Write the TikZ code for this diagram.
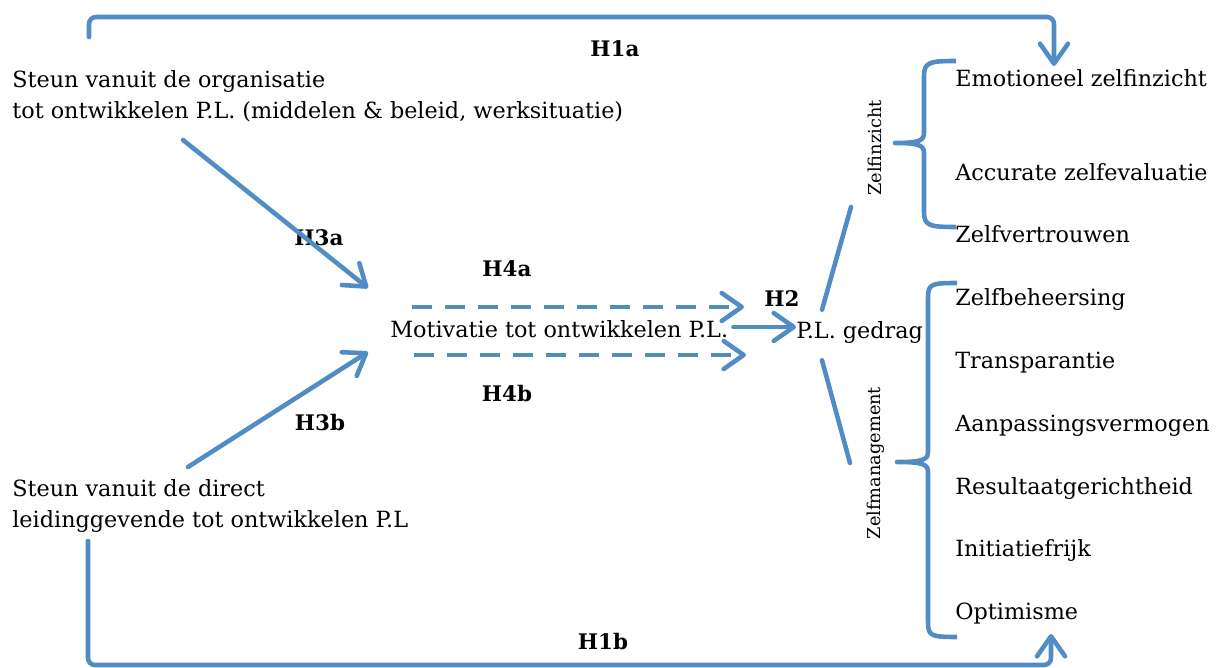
\documentclass[tikz,border=0pt]{standalone}
\usepackage{tikz}
\usepackage{fontspec}
\setmainfont{DejaVu Serif}
\usepackage{xcolor}
\definecolor{modelblue}{RGB}{82,140,196}
\usetikzlibrary{arrows.meta,positioning}

\tikzset{
    link/.style={draw=modelblue, line width=2.6pt, line cap=round, line join=round},
    pijl/.style={link, -{Straight Barb[length=4mm,width=5.6mm,round]}},
    stippel/.style={pijl, line cap=butt, dash pattern=on 4mm off 2.6mm},
    tekst/.style={inner sep=0pt, font=\fontsize{12.7}{18.2}\selectfont},
    hyp/.style={inner sep=0pt, font=\fontsize{12.2}{15}\selectfont\bfseries},
    dim/.style={inner sep=0pt, rotate=90, font=\fontsize{10.1}{12}\selectfont},
}

\begin{document}
\begin{tikzpicture}[x=0.02cm, y=-0.02cm]
    \useasboundingbox (0,0) rectangle (1221,668);

    % Antecedenten (base = laatste regel)
    \node[tekst, anchor=base west, align=left] (org) at (12,119)
        {Steun vanuit de organisatie\\tot ontwikkelen P.L. (middelen \& beleid, werksituatie)};
    \node[tekst, anchor=base west, align=left] (leid) at (12,528)
        {Steun vanuit de direct\\leidinggevende tot ontwikkelen P.L};

    % Mediator en uitkomst
    \node[tekst, anchor=base west] (mot) at (390,338) {Motivatie tot ontwikkelen P.L.};
    \node[tekst, anchor=base west] (gedrag) at (796,339) {P.L. gedrag};

    % Dimensies
    \node[dim] (inzicht) at (875,148) {Zelfinzicht};
    \node[dim] (management) at (876,463) {Zelfmanagement};

    \foreach \name/\y/\lab in {emo/87/Emotioneel zelfinzicht, acc/181/Accurate zelfevaluatie,
        vertr/243/Zelfvertrouwen, beh/306/Zelfbeheersing, trans/369/Transparantie,
        aanp/432/Aanpassingsvermogen, res/495/Resultaatgerichtheid,
        init/557/Initiatiefrijk, opt/620/Optimisme} {
        \node[tekst, anchor=base west] (\name) at (955,\y) {\lab};
    }

    % Hypothesen
    \node[hyp, anchor=base] (h1a) at (615,57) {H1a};
    \node[hyp, anchor=base] (h3a) at (319,246) {H3a};
    \node[hyp, anchor=base] (h4a) at (507,277) {H4a};
    \node[hyp, anchor=base] (h2) at (782,307) {H2};
    \node[hyp, anchor=base] (h4b) at (507,402) {H4b};
    \node[hyp, anchor=base] (h3b) at (320,431) {H3b};
    \node[hyp, anchor=base] (h1b) at (603,650) {H1b};

    % Eindpunten van de verbindingen
    \coordinate (h1aStart) at (89,37);
    \coordinate (h1aEnd) at (1054,66);
    \coordinate (h1bStart) at (88,541);
    \coordinate (h1bEnd) at (1051,634);
    \coordinate (h3aStart) at (183,140);
    \coordinate (h3aEnd) at (368,288);
    \coordinate (h3bStart) at (188,467);
    \coordinate (h3bEnd) at (368,352);
    \coordinate (inzichtLijn) at (851,207);
    \coordinate (managementLijn) at (850,463);

    % Directe effecten
    \draw[pijl, rounded corners=4pt] (h1aStart) |- (1054,17) -- (h1aEnd);
    \draw[pijl, rounded corners=4pt] (h1bStart) |- (1051,665) -- (h1bEnd);

    % Steun -> motivatie
    \draw[pijl] (h3aStart) -- (h3aEnd);
    \draw[pijl] (h3bStart) -- (h3bEnd);

    % Modererende effecten
    \draw[stippel] (412,307) -- (744,307);
    \draw[stippel] (414,355) -- (746,355);

    % Motivatie -> gedrag
    \draw[pijl] (mot.east |- 0,327) ++(5,0) -- (gedrag.west |- 0,327);

    % Gedrag -> dimensies
    \draw[link] (gedrag.north west) ++(26,-12) -- (inzichtLijn);
    \draw[link] (gedrag.south west) ++(26,16) -- (managementLijn);

    % Accolades
    \draw[link, line cap=butt] (956,61) .. controls (930,61) and (924,62) .. (924,76)
        -- (924,133) .. controls (924,141) and (918,143) .. (895,143)
        .. controls (918,143) and (924,145) .. (924,153)
        -- (924,212) .. controls (924,226) and (930,227) .. (956,227);
    \draw[link, line cap=butt] (957,283) .. controls (931,283) and (928,284) .. (928,298)
        -- (928,452) .. controls (928,460) and (922,462) .. (897,462)
        .. controls (922,462) and (928,464) .. (928,472)
        -- (928,622) .. controls (928,636) and (931,637) .. (957,637);
\end{tikzpicture}
\end{document}
